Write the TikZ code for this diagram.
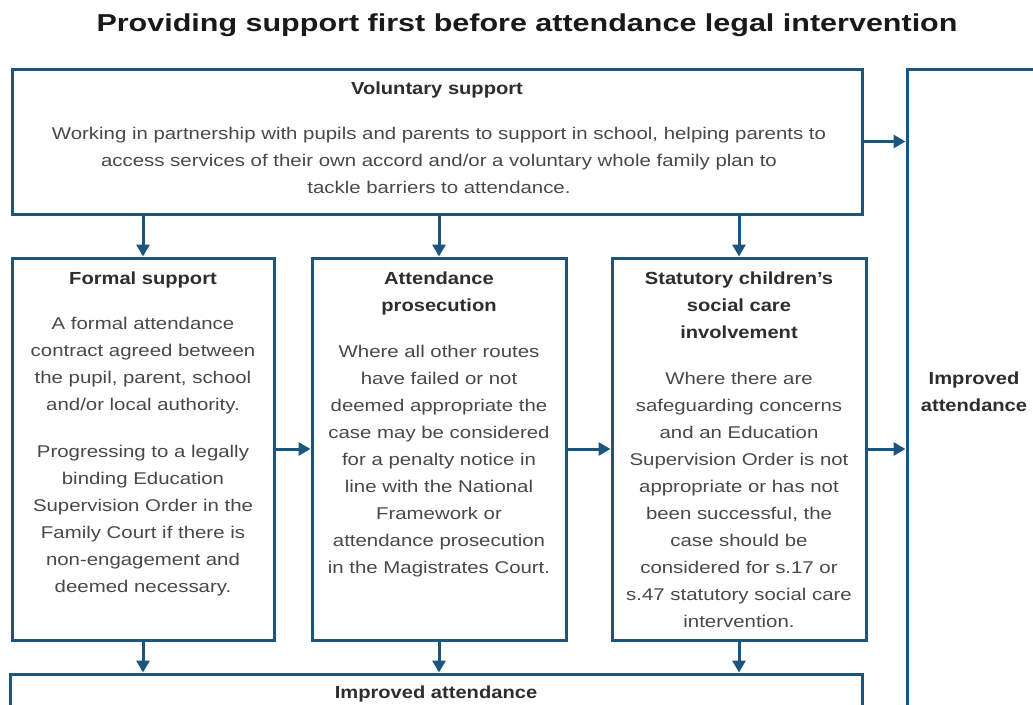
\documentclass[tikz,border=0pt]{standalone}
\usepackage{fontspec}
\setmainfont{Liberation Sans}
\newfontfamily\bodyfont[FakeStretch=1.2]{Liberation Sans}
\newfontfamily\headfont[FakeStretch=1.15]{Liberation Sans Bold}
\newfontfamily\titlefont[FakeStretch=1.245]{Liberation Sans Bold}
\usetikzlibrary{arrows.meta}
\definecolor{boxblue}{RGB}{28,86,126}
\definecolor{bodygray}{RGB}{72,72,72}
\definecolor{headgray}{RGB}{45,45,45}
\tikzset{
  box/.style={draw=boxblue, line width=3pt, rectangle, inner sep=0pt},
  arr/.style={draw=boxblue, line width=3pt, -{Triangle[length=12pt,width=13pt]}},
  bodytxt/.style={anchor=north, align=center, inner sep=0pt, text=bodygray,
    font=\bodyfont\fontsize{17}{27}\selectfont},
  headtxt/.style={anchor=north, align=center, inner sep=0pt, text=headgray,
    font=\headfont\fontsize{17.5}{27}\selectfont},
}
\begin{document}
\begin{tikzpicture}[x=1pt,y=-1pt]
\useasboundingbox (0,0) rectangle (1033,704);
\clip (0,0) rectangle (1033,704);
% title
\node[anchor=center, inner sep=0pt, text=black!90, font=\titlefont\fontsize{24.5}{28}\selectfont] (title) at (527,25) {Providing support first before attendance legal intervention};
% boxes
\node[box, minimum width=850pt, minimum height=145pt] (top) at (437,141.5) {};
\node[box, minimum width=262pt, minimum height=382pt] (b1) at (143,449) {};
\node[box, minimum width=254pt, minimum height=382pt] (b2) at (439,449) {};
\node[box, minimum width=254pt, minimum height=382pt] (b3) at (739,449) {};
\node[box, minimum width=852pt, minimum height=100pt] (bot) at (436,724) {};
\node[box, minimum width=133pt, minimum height=711pt] (right) at (973.5,424.5) {};
% texts
\node[headtxt] (t0h) at (437,81.7) {Voluntary support};
\node[bodytxt] (t0b) at (439,126.7) {Working in partnership with pupils and parents to support in school, helping parents to\\access services of their own accord and/or a voluntary whole family plan to\\tackle barriers to attendance.};
\node[headtxt] (t1h) at (143,271.7) {Formal support};
\node[bodytxt] (t1b) at (143,316.7) {A formal attendance\\contract agreed between\\the pupil, parent, school\\and/or local authority.};
\node[bodytxt] (t1c) at (143,444.7) {Progressing to a legally\\binding Education\\Supervision Order in the\\Family Court if there is\\non-engagement and\\deemed necessary.};
\node[headtxt] (t2h) at (439,271.7) {Attendance\\prosecution};
\node[bodytxt] (t2b) at (439,344.7) {Where all other routes\\have failed or not\\deemed appropriate the\\case may be considered\\for a penalty notice in\\line with the National\\Framework or\\attendance prosecution\\in the Magistrates Court.};
\node[headtxt] (t3h) at (739,271.7) {Statutory children’s\\social care\\involvement};
\node[bodytxt] (t3b) at (739,371.7) {Where there are\\safeguarding concerns\\and an Education\\Supervision Order is not\\appropriate or has not\\been successful, the\\case should be\\considered for s.17 or\\s.47 statutory social care\\intervention.};
\node[headtxt] (t4h) at (436,685.7) {Improved attendance};
\node[headtxt] (t5h) at (974,371.7) {Improved\\attendance};
% connectors
\draw[arr] (top.east) -- (top.east -| right.west);
\draw[arr] (top.south -| b1.north) -- (b1.north);
\draw[arr] (top.south -| b2.north) -- (b2.north);
\draw[arr] (top.south -| b3.north) -- (b3.north);
\draw[arr] (b1.east) -- (b2.west);
\draw[arr] (b2.east) -- (b3.west);
\draw[arr] (b3.east) -- (b3.east -| right.west);
\draw[arr] (b1.south) -- (b1.south |- bot.north);
\draw[arr] (b2.south) -- (b2.south |- bot.north);
\draw[arr] (b3.south) -- (b3.south |- bot.north);
\end{tikzpicture}
\end{document}
